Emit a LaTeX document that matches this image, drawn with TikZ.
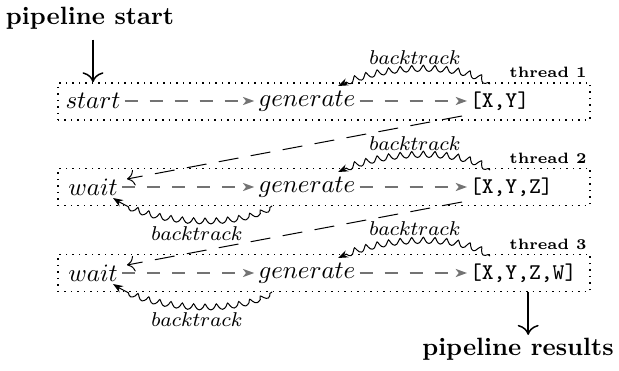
\documentclass[tikz,border=0pt]{standalone}
\usetikzlibrary{decorations.pathmorphing,arrows.meta}
\begin{document}
\begin{tikzpicture}[x=0.4pt,y=-0.4pt,
  lbl/.style={font=\bfseries, inner sep=1pt},
  thr/.style={font=\fontsize{6}{7}\selectfont\bfseries, anchor=south east, inner sep=1.5pt},
  stage/.style={inner sep=1.5pt},
  lst/.style={font=\small\ttfamily, anchor=west, inner sep=1pt},
  frame/.style={draw, dotted, line width=0.6pt, minimum width=212.8pt, minimum height=14.8pt, inner sep=0pt},
  flow/.style={draw=black!55, line width=0.8pt, dash pattern=on 5.2pt off 4.8pt, -{Stealth[length=4.5pt,width=3.2pt,inset=1.2pt]}},
  hand/.style={dash pattern=on 8pt off 5pt, -{To[length=3pt]}},
  bt/.style={decorate, decoration={coil, aspect=0.3, amplitude=1.2pt, segment length=4.6pt, pre length=1pt, post length=3pt}, -{Stealth[length=4pt,width=3pt]}},
  btl/.style={font=\footnotesize, inner sep=1pt},
  io/.style={line width=0.6pt, -{To[length=4pt]}}
]
\useasboundingbox (0,0) rectangle (619,371);

% boxes
\node[frame] (box1) at (324,101.5) {};
\node[frame] (box2) at (324,187) {};
\node[frame] (box3) at (324,273) {};
\node[thr] (t1) at (box1.north east) {thread 1};
\node[thr] (t2) at (box2.north east) {thread 2};
\node[thr] (t3) at (box3.north east) {thread 3};

% stages
\node[stage] (s1) at (93,101) {$start$};
\node[stage] (g1) at (307,101) {$generate$};
\node[lst] (l1) at (467,101) {[X,Y]};
\node[stage] (w2) at (93,187) {$wait$};
\node[stage] (g2) at (307,187) {$generate$};
\node[lst] (l2) at (467,187) {[X,Y,Z]};
\node[stage] (w3) at (93,273) {$wait$};
\node[stage] (g3) at (307,273) {$generate$};
\node[lst] (l3) at (467,273) {[X,Y,Z,W]};

% pipeline ends
\node[lbl] (ps) at (90,18) {pipeline start};
\node[lbl] (pr) at (518,349) {pipeline results};
\draw[io] ([yshift=-3pt]ps.south -| s1) -- (box1.north -| s1);
\draw[io] ([xshift=2pt]box3.south -| l3) -- ([xshift=2pt]pr.north -| l3);

\draw[flow] (s1) -- (g1);
\draw[flow] (g1) -- (l1);
\draw[flow] (w2) -- (g2);
\draw[flow] (g2) -- (l2);
\draw[flow] (w3) -- (g3);
\draw[flow] (g3) -- (l3);

% hand-over lines
\coordinate (h1a) at (462,116);
\coordinate (h1b) at (127,179);
\coordinate (h2a) at (462,202);
\coordinate (h2b) at (127,265);
\draw[hand] (h1a) -- (h1b);
\draw[hand] (h2a) -- (h2b);

% backtracks
\coordinate (b1a) at (490,84);  \coordinate (b1b) at (338,86);
\coordinate (b2a) at (490,170); \coordinate (b2b) at (338,172);
\coordinate (b3a) at (490,256); \coordinate (b3b) at (338,258);
\coordinate (c2a) at (272,206); \coordinate (c2b) at (113,198);
\coordinate (c3a) at (272,292); \coordinate (c3b) at (113,284);
\foreach \a/\b in {b1a/b1b,b2a/b2b,b3a/b3b}{
  \draw[bt] (\a) .. controls +(-30,-22) and +(45,-22) .. (\b);
}
\foreach \a/\b in {c2a/c2b,c3a/c3b}{
  \draw[bt] (\a) .. controls +(-30,22) and +(40,28) .. (\b);
}
\node[btl] (bl1) at (415,58) {$backtrack$};
\node[btl] (bl2) at (415,144) {$backtrack$};
\node[btl] (bl3) at (415,229) {$backtrack$};
\node[btl] (bl4) at (197,234) {$backtrack$};
\node[btl] (bl5) at (197,320) {$backtrack$};
\end{tikzpicture}
\end{document}
